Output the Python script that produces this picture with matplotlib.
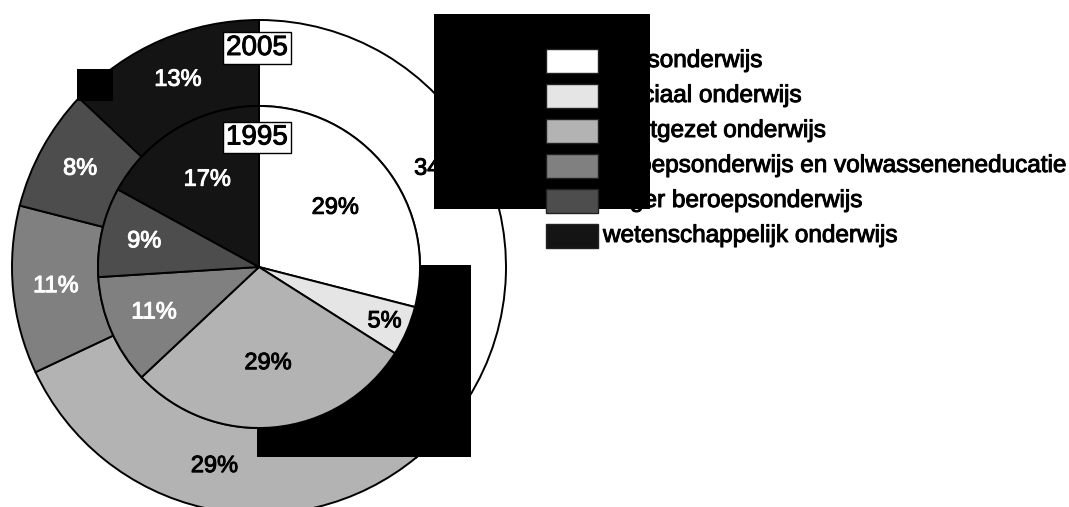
import numpy as np
import matplotlib
matplotlib.use('Agg')
import matplotlib.pyplot as plt
import matplotlib.patheffects as pe
from matplotlib.patches import Rectangle

plt.rcParams['font.family'] = ['Liberation Sans', 'DejaVu Sans']

# ========== 数据 ==========
categories = ['basisonderwijs', 'speciaal onderwijs', 'voortgezet onderwijs',
              'beroepsonderwijs en volwasseneneducatie', 'hoger beroepsonderwijs',
              'wetenschappelijk onderwijs']
share_1995 = [29, 5, 29, 11, 9, 17]
share_2005 = [34, 5, 29, 11, 8, 13]
year_inner = '1995'
year_outer = '2005'

colors = ['#ffffff', '#e5e5e5', '#b3b3b3', '#808080', '#4d4d4d', '#141414']
text_colors = ['black', 'black', 'black', 'white', 'white', 'white']
# 内饼标签离圆心的相对距离
inner_dist = [0.6, 0.85, 0.6, 0.71, 0.73, 0.63]


def bold_fx(c):
    # 原图字体略粗，用描边加粗
    return [pe.withStroke(linewidth=0.7, foreground=c)]


# ========== 画布 (像素坐标) ==========
W, H = 1069, 507
fig = plt.figure(figsize=(W / 100, H / 100), dpi=100)
ax = fig.add_axes([0, 0, 1, 1])

cx, cy = 259, 240
r_out, r_in = 247, 161
edge = dict(edgecolor='black', linewidth=1.4)

# 外环 2005
w_out, _, pct_out = ax.pie(share_2005, colors=colors, startangle=90, counterclock=False,
                           radius=r_out, center=(cx, cy), autopct='%.0f%%', pctdistance=0.826,
                           wedgeprops=dict(width=r_out - r_in, **edge),
                           textprops=dict(fontsize=17))
# 内饼 1995
w_in, _, pct_in = ax.pie(share_1995, colors=colors, startangle=90, counterclock=False,
                         radius=r_in, center=(cx, cy), autopct='%.0f%%', pctdistance=0.7,
                         wedgeprops=edge, textprops=dict(fontsize=17))
for w in w_out:
    w.set_zorder(1)
for w in w_in:
    w.set_zorder(4)
for t, c in zip(pct_out, text_colors):
    t.set_color(c)
    t.set_zorder(2)
    t.set_path_effects(bold_fx(c))
for w, t, c, d in zip(w_in, pct_in, text_colors, inner_dist):
    ang = np.deg2rad((w.theta1 + w.theta2) / 2)
    t.set_position((cx + d * r_in * np.cos(ang), cy + d * r_in * np.sin(ang)))
    t.set_color(c)
    t.set_zorder(5)
    t.set_path_effects(bold_fx(c))

ax.set_xlim(0, W)
ax.set_ylim(0, H)
ax.set_aspect('equal')
ax.axis('off')

# 年份标签
box = dict(boxstyle='square,pad=0.1', fc='white', ec='black', lw=1)
for yr, ty in [(year_outer, 459), (year_inner, 369.5)]:
    t = ax.text(257, ty, yr, ha='center', va='center', fontsize=20, bbox=box, zorder=6)
    t.set_path_effects(bold_fx('black'))

# 图例
for i, (lab, col) in enumerate(zip(categories, colors)):
    yc = 446 - 35 * i
    ax.add_patch(Rectangle((546, yc - 12), 52, 24, fc=col, ec='#222222', lw=1, zorder=4))
    t = ax.text(603, yc, lab, va='center', ha='left', fontsize=17.5, zorder=2)
    t.set_path_effects(bold_fx('black'))

# 遮挡块
for (x0, x1, y0, y1) in [(77, 113, 406, 438), (434, 650, 298, 493), (257, 471, 50, 242)]:
    ax.add_patch(Rectangle((x0, y0), x1 - x0, y1 - y0, fc='black', ec='none', zorder=3))

fig.savefig('out.png', dpi=100)
